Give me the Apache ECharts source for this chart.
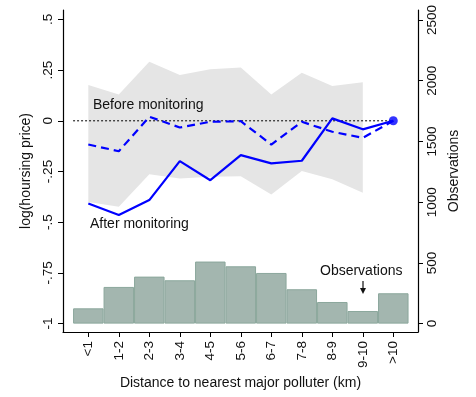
<!DOCTYPE html>
<html>
<head>
<meta charset="utf-8">
<script src="https://cdn.jsdelivr.net/npm/echarts@6/dist/echarts.min.js"></script>
<style>
  html, body { margin: 0; padding: 0; background: #fff; }
  #chart { width: 476px; height: 397px; }
</style>
</head>
<body>
<div id="chart"></div>
<script>
// distance bins (km)
const categories = ['<1', '1-2', '2-3', '3-4', '4-5', '5-6', '6-7', '7-8', '8-9', '9-10', '>10'];
// number of observations per bin (right axis)
const observations = [126, 302, 387, 357, 511, 472, 417, 283, 178, 104, 250];
// log(housing price) estimates (left axis)
const beforeMonitoring = [-0.117, -0.150, 0.020, -0.033, -0.005, -0.002, -0.117, -0.005, -0.054, -0.084, 0];
const afterMonitoring = [-0.408, -0.465, -0.391, -0.199, -0.293, -0.169, -0.210, -0.197, 0.012, -0.042, 0];
// confidence band (bins <1 .. 9-10)
const ciUpper = [0.176, 0.130, 0.291, 0.226, 0.254, 0.263, 0.130, 0.237, 0.171, 0.190];
const ciLower = [-0.400, -0.424, -0.263, -0.284, -0.276, -0.273, -0.363, -0.248, -0.288, -0.355];
// reference line at zero
const zeroLine = [[-0.5, 0], [10, 0]];
// tick labels
const leftTicks = [-1, -0.75, -0.5, -0.25, 0, 0.25, 0.5];
const leftTickLabels = ['-1', '-.75', '-.5', '-.25', '0', '.25', '.5'];
const rightTicks = [0, 500, 1000, 1500, 2000, 2500];

const FONT = 'Liberation Sans, Arial, sans-serif';
const BLUE = '#0000ff';
const xIdx = categories.map((_, i) => i);

const chart = echarts.init(document.getElementById('chart'));

// whole band drawn as one polygon (upper edge forward, lower edge back)
function renderBand(params, api) {
  if (params.dataIndex !== 0) return null;
  const top = ciUpper.map((v, i) => api.coord([i, v]));
  const bottom = ciLower.map((v, i) => api.coord([i, v])).reverse();
  return {
    type: 'polygon',
    shape: { points: top.concat(bottom) },
    style: { fill: '#e5e5e5' }
  };
}

chart.setOption({
  animation: false,
  backgroundColor: '#fff',
  textStyle: { fontFamily: FONT },
  grid: {
    left: 63, right: 58, top: 10, bottom: 65,
    containLabel: false,
    outerBoundsMode: 'none'
  },
  xAxis: {
    type: 'value',
    min: -0.83,
    max: 10.81,
    name: 'Distance to nearest major polluter (km)',
    nameLocation: 'middle',
    nameGap: 43,
    nameTextStyle: { fontSize: 14, color: '#111', fontFamily: FONT },
    axisLine: { show: true, onZero: false, lineStyle: { color: '#000', width: 1.2 } },
    axisTick: { show: true, length: 5, customValues: xIdx, lineStyle: { color: '#000' } },
    axisLabel: {
      customValues: xIdx,
      rotate: 90,
      margin: 9,
      fontSize: 13.5,
      color: '#111',
      fontFamily: FONT,
      formatter: v => categories[Math.round(v)]
    },
    splitLine: { show: false }
  },
  yAxis: [
    {
      type: 'value',
      min: -1.0415,
      max: 0.5464,
      name: 'log(hoursing price)',
      nameLocation: 'middle',
      nameGap: 26,
      nameTextStyle: { fontSize: 14, color: '#111', fontFamily: FONT },
      axisLine: { show: true, onZero: false, lineStyle: { color: '#000', width: 1.2 } },
      axisTick: { show: true, length: 5, customValues: leftTicks, lineStyle: { color: '#000' } },
      axisLabel: {
        customValues: leftTicks,
        rotate: 90,
        margin: 8,
        fontSize: 13.5,
        color: '#111',
        fontFamily: FONT,
        formatter: v => leftTickLabels[leftTicks.findIndex(t => Math.abs(t - v) < 1e-6)]
      },
      splitLine: { show: false }
    },
    {
      type: 'value',
      min: -69,
      max: 2582,
      position: 'right',
      name: 'Observations',
      nameLocation: 'middle',
      nameGap: 25,
      nameRotate: 90,
      nameTextStyle: { fontSize: 14, color: '#111', fontFamily: FONT },
      axisLine: { show: true, onZero: false, lineStyle: { color: '#000', width: 1.2 } },
      axisTick: { show: true, length: 5, customValues: rightTicks, lineStyle: { color: '#000' } },
      axisLabel: {
        customValues: rightTicks,
        rotate: 90,
        margin: 7,
        fontSize: 13.5,
        color: '#111',
        fontFamily: FONT,
        formatter: v => String(v)
      },
      splitLine: { show: false }
    }
  ],
  series: [
    {
      name: 'ci',
      type: 'custom',
      z: 1,
      silent: true,
      renderItem: renderBand,
      encode: { x: 0, y: [1, 2] },
      data: ciUpper.map((v, i) => [i, v, ciLower[i]])
    },
    {
      name: 'Observations',
      type: 'bar',
      yAxisIndex: 1,
      barWidth: 30.5,
      z: 2,
      itemStyle: { color: '#a3b6af', borderColor: '#8ba79c', borderWidth: 1 },
      data: observations.map((v, i) => [i, v])
    },
    {
      name: 'zero',
      type: 'line',
      z: 3,
      symbol: 'none',
      lineStyle: { color: '#000', width: 1, type: [2, 2] },
      data: zeroLine
    },
    {
      name: 'Before monitoring',
      type: 'line',
      z: 4,
      symbol: 'none',
      lineStyle: { color: BLUE, width: 2.2, type: [8, 5] },
      data: beforeMonitoring.map((v, i) => [i, v])
    },
    {
      name: 'After monitoring',
      type: 'line',
      z: 5,
      symbol: 'none',
      lineStyle: { color: BLUE, width: 2.2 },
      data: afterMonitoring.map((v, i) => [i, v])
    },
    {
      name: 'end',
      type: 'scatter',
      z: 6,
      symbol: 'circle',
      symbolSize: 9,
      itemStyle: { color: BLUE },
      data: [[10, afterMonitoring[10]]]
    }
  ],
  graphic: [
    {
      type: 'text', left: 93, top: 98, z: 10,
      style: { text: 'Before monitoring', font: '14px ' + FONT, fill: '#111' }
    },
    {
      type: 'text', left: 90, top: 217, z: 10,
      style: { text: 'After monitoring', font: '14px ' + FONT, fill: '#111' }
    },
    {
      type: 'text', left: 320, top: 264, z: 10,
      style: { text: 'Observations', font: '14px ' + FONT, fill: '#111' }
    },
    {
      type: 'line', z: 10,
      shape: { x1: 363, y1: 281, x2: 363, y2: 290 },
      style: { stroke: '#111', lineWidth: 1.2 }
    },
    {
      type: 'polygon', z: 10,
      shape: { points: [[360, 288], [366, 288], [363, 294]] },
      style: { fill: '#111' }
    }
  ]
});
</script>
</body>
</html>
